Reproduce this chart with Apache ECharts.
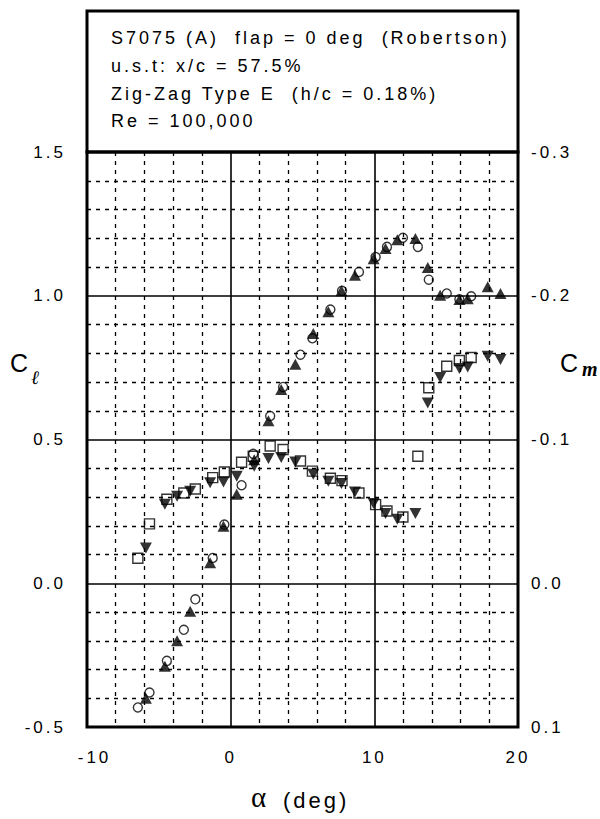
<!DOCTYPE html>
<html><head><meta charset="utf-8">
<script src="https://cdn.jsdelivr.net/npm/echarts@6/dist/echarts.min.js"></script>
<style>
html,body{margin:0;padding:0;background:#fff;}
#main{width:600px;height:819px;}
#main text{letter-spacing:3px; white-space:pre;}
</style></head><body><div id="main"></div>
<script>
// ---- text ----
const titleLines = [
  'S7075 (A)  flap = 0 deg  (Robertson)',
  'u.s.t: x/c = 57.5%',
  'Zig-Zag Type E  (h/c = 0.18%)',
  'Re = 100,000'
];
const xTickValues = [-10, 0, 10, 20];
const clTickValues = [-0.5, 0.0, 0.5, 1.0, 1.5];
const cmTickValues = [-0.3, -0.2, -0.1, 0.0, 0.1];

// ---- run A: Cl (open circles) and Cm (open squares) ----
const alphaA = [-6.46,-5.65,-4.44,-3.26,-2.46,-1.25,-0.44,0.76,1.57,2.75,3.65,4.86,5.69,6.94,7.75,8.93,10.09,10.88,11.99,13.03,13.79,15.04,15.92,16.74];
const clA    = [-0.432,-0.380,-0.270,-0.162,-0.056,0.088,0.204,0.341,0.450,0.582,0.683,0.795,0.852,0.952,1.017,1.083,1.135,1.170,1.202,1.170,1.056,1.008,0.988,0.998];
const cmA    = [-0.0174,-0.0413,-0.0584,-0.0628,-0.0656,-0.0735,-0.0774,-0.0842,-0.0883,-0.0955,-0.0930,-0.0850,-0.0780,-0.0730,-0.0714,-0.0628,-0.0547,-0.0503,-0.0461,-0.0883,-0.1360,-0.1510,-0.1550,-0.1570];

// ---- run B: Cl (filled up-triangles) and Cm (filled down-triangles) ----
const alphaB = [-5.90,-4.58,-3.73,-2.82,-1.43,-0.50,0.42,1.64,2.63,3.52,4.50,5.75,6.80,7.71,8.65,9.95,10.78,11.60,12.86,13.72,14.58,15.92,16.50,17.89,18.78];
const clB    = [-0.400,-0.289,-0.200,-0.097,0.071,0.198,0.310,0.430,0.565,0.674,0.762,0.869,0.944,1.017,1.071,1.129,1.164,1.195,1.199,1.098,1.002,0.987,0.990,1.031,1.008];
const cmB    = [-0.0246,-0.0550,-0.0605,-0.0640,-0.0700,-0.0705,-0.0744,-0.0814,-0.0867,-0.0874,-0.0844,-0.0758,-0.0710,-0.0694,-0.0635,-0.0554,-0.0485,-0.0445,-0.0485,-0.1254,-0.1431,-0.1494,-0.1505,-0.1580,-0.1556];

const zip = (a, b) => a.map((v, i) => [v, b[i]]);
const fmt1 = v => (Math.abs(v) < 1e-9 ? 0 : v).toFixed(1);

const FONT = '"Liberation Sans", Arial, Helvetica, sans-serif';
const dotted = { color: '#000', width: 1.3, type: [4, 5] };
const openStyle = { color: 'rgba(0,0,0,0)', borderColor: '#000', borderWidth: 1.4 };
const fillStyle = { color: '#000', borderColor: '#000', borderWidth: 0 };

const chart = echarts.init(document.getElementById('main'), null, { renderer: 'svg' });

const graphics = [
  { type: 'rect', shape: { x: 87, y: 11, width: 431, height: 141 },
    style: { fill: 'none', stroke: '#000', lineWidth: 3 }, z: 10 }
];
const titleY = [38, 66, 93.5, 120.5];
titleLines.forEach((t, i) => graphics.push({
  type: 'text', x: 111, y: titleY[i], z: 10,
  style: { text: t, fill: '#000', font: '18px ' + FONT, textVerticalAlign: 'middle', verticalAlign: 'middle', textAlign: 'left' }
}));
graphics.push(
  { type: 'text', x: 10, y: 363, style: { text: 'C', fill: '#000', font: '25px ' + FONT, verticalAlign: 'middle', textVerticalAlign: 'middle' } },
  { type: 'text', x: 31, y: 377, style: { text: 'ℓ', fill: '#000', font: 'italic 19px "DejaVu Serif", serif', verticalAlign: 'middle', textVerticalAlign: 'middle' } },
  { type: 'text', x: 560, y: 363, style: { text: 'C', fill: '#000', font: '25px ' + FONT, verticalAlign: 'middle', textVerticalAlign: 'middle' } },
  { type: 'text', x: 582, y: 369, style: { text: 'm', fill: '#000', font: 'italic bold 20px "Liberation Serif", serif', verticalAlign: 'middle', textVerticalAlign: 'middle' } },
  { type: 'text', x: 251, y: 797, style: { text: 'α', fill: '#000', font: '29px "Liberation Serif", serif', verticalAlign: 'middle', textVerticalAlign: 'middle' } },
  { type: 'text', x: 283, y: 800, style: { text: '(deg)', fill: '#000', font: '22px ' + FONT, verticalAlign: 'middle', textVerticalAlign: 'middle' } }
);

chart.setOption({
  animation: false,
  backgroundColor: '#fff',
  grid: { left: 87, right: 82, top: 152, bottom: 92, show: true, borderColor: '#000', borderWidth: 3, backgroundColor: 'transparent' },
  xAxis: {
    type: 'value', min: xTickValues[0], max: xTickValues[xTickValues.length - 1], interval: 10,
    axisLine: { show: false }, axisTick: { show: false },
    minorTick: { show: false, splitNumber: 5 },
    minorSplitLine: { show: true, lineStyle: dotted },
    splitLine: { show: true, lineStyle: { color: '#000', width: 1.6 } },
    axisLabel: {
      margin: 22, color: '#000', fontSize: 17, fontFamily: FONT,
      formatter: v => v === -10 ? '{n|-10}' : '{m|' + v + '}',
      rich: { n: { padding: [0, 0, 0, 15], fontSize: 17, fontFamily: FONT, color: '#000' },
              m: { fontSize: 17, fontFamily: FONT, color: '#000' } }
    }
  },
  yAxis: [
    {
      type: 'value', min: clTickValues[0], max: clTickValues[clTickValues.length - 1], interval: 0.5,
      axisLine: { show: false }, axisTick: { show: false },
      minorTick: { show: false, splitNumber: 5 },
      minorSplitLine: { show: true, lineStyle: dotted },
      splitLine: { show: true, lineStyle: { color: '#000', width: 1.6 } },
      axisLabel: { margin: 21, color: '#000', fontSize: 17, fontFamily: FONT, formatter: fmt1 }
    },
    {
      type: 'value', min: cmTickValues[0], max: cmTickValues[cmTickValues.length - 1], interval: 0.1,
      inverse: true, position: 'right',
      axisLine: { show: false }, axisTick: { show: false }, splitLine: { show: false },
      axisLabel: { margin: 13, color: '#000', fontSize: 17, fontFamily: FONT, formatter: fmt1 }
    }
  ],
  series: [
    { type: 'scatter', name: 'Cl A', yAxisIndex: 0, data: zip(alphaA, clA), symbol: 'circle', symbolSize: 9, itemStyle: openStyle, silent: true, z: 3 },
    { type: 'scatter', name: 'Cm A', yAxisIndex: 1, data: zip(alphaA, cmA), symbol: 'rect', symbolSize: 10, itemStyle: openStyle, silent: true, z: 3 },
    { type: 'scatter', name: 'Cl B', yAxisIndex: 0, data: zip(alphaB, clB), symbol: 'triangle', symbolSize: [12, 11], itemStyle: fillStyle, silent: true, z: 2 },
    { type: 'scatter', name: 'Cm B', yAxisIndex: 1, data: zip(alphaB, cmB), symbol: 'triangle', symbolRotate: 180, symbolSize: [12, 11], itemStyle: fillStyle, silent: true, z: 2 }
  ],
  graphic: graphics
});
</script></body></html>
